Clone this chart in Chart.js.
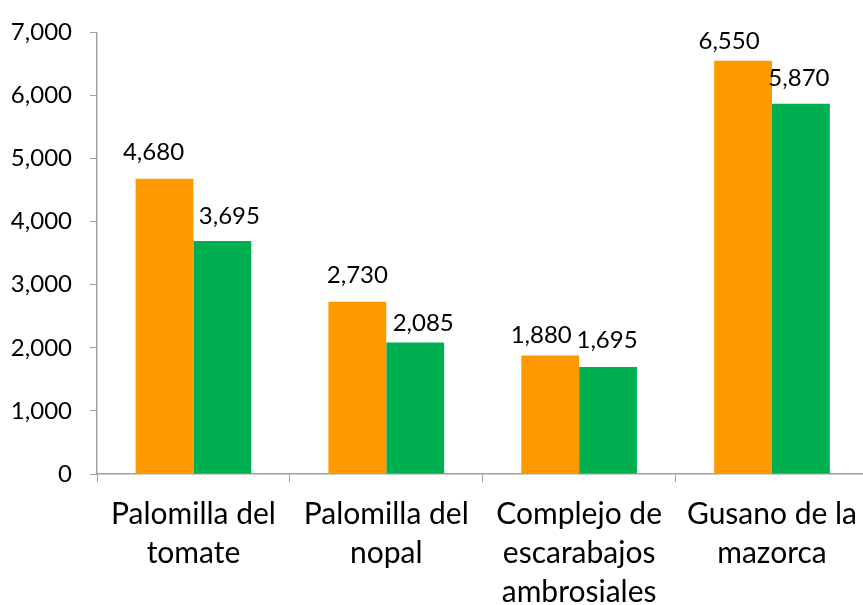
<!DOCTYPE html>
<html>
<head>
<meta charset="utf-8">
<script src="https://cdn.jsdelivr.net/npm/chart.js@4/dist/chart.umd.min.js"></script>
<style>
  html, body { margin: 0; padding: 0; background: #ffffff; overflow: hidden; }
  #wrap { width: 870px; height: 605px; }
</style>
</head>
<body>
<div id="wrap"><canvas id="chart"></canvas></div>
<script>
const categories = [
  ['Palomilla del', 'tomate'],
  ['Palomilla del', 'nopal'],
  ['Complejo de', 'escarabajos', 'ambrosiales'],
  ['Gusano de la', 'mazorca'],
];
const seriesOrange = [4680, 2730, 1880, 6550];
const seriesGreen = [3695, 2085, 1695, 5870];
const yTicks = [0, 1000, 2000, 3000, 4000, 5000, 6000, 7000];

const FONT = 'Lato, "Open Sans", sans-serif';
const fmt = (v) => v.toLocaleString('en-US');

// values drawn above each bar, nudged the way the original spreadsheet placed them
const barLabels = {
  id: 'barLabels',
  afterDatasetsDraw(chart, args, opts) {
    const ctx = chart.ctx;
    ctx.save();
    ctx.font = '24px ' + FONT;
    ctx.fillStyle = '#000000';
    ctx.textAlign = 'center';
    ctx.textBaseline = 'alphabetic';
    chart.data.datasets.forEach((ds, i) => {
      chart.getDatasetMeta(i).data.forEach((bar, j) => {
        const [dx, gap] = opts.nudge[i][j];
        ctx.fillText(fmt(ds.data[j]), bar.x + dx, bar.y - gap);
      });
    });
    ctx.restore();
  },
};

new Chart(document.getElementById('chart'), {
  type: 'bar',
  data: {
    labels: categories,
    datasets: [
      { data: seriesOrange, backgroundColor: '#FF9900', borderWidth: 0 },
      { data: seriesGreen, backgroundColor: '#00B050', borderWidth: 0 },
    ],
  },
  options: {
    responsive: true,
    maintainAspectRatio: false,
    animation: false,
    layout: { padding: { top: 30, right: 0, left: 0, bottom: 0 } },
    datasets: { bar: { categoryPercentage: 0.6, barPercentage: 1.0 } },
    plugins: {
      legend: { display: false },
      tooltip: { enabled: false },
      barLabels: {
        nudge: [
          [[-11, 19], [0, 19], [-9, 12], [-14, 12]],
          [[7, 17], [8, 11], [-1, 19], [-2, 18]],
        ],
      },
    },
    scales: {
      x: {
        afterFit(scale) { scale.height = 131; },
        grid: { display: true, drawOnChartArea: false, color: '#A0A0A0', tickLength: 8, offset: true },
        border: { color: '#A0A0A0', width: 1.5 },
        ticks: { color: '#000000', font: { family: FONT, size: 30, lineHeight: 1.3 }, padding: 13, maxRotation: 0, autoSkip: false },
      },
      y: {
        min: 0,
        max: 7000,
        afterFit(scale) { scale.width = 97; },
        afterBuildTicks(scale) { scale.ticks = yTicks.map((v) => ({ value: v })); },
        grid: { display: true, drawOnChartArea: false, color: '#A0A0A0', tickLength: 7 },
        border: { color: '#A0A0A0', width: 1.5 },
        ticks: { color: '#000000', font: { family: FONT, size: 24 }, padding: 18, callback: (v) => fmt(v) },
      },
    },
  },
  plugins: [barLabels],
});
</script>
</body>
</html>
